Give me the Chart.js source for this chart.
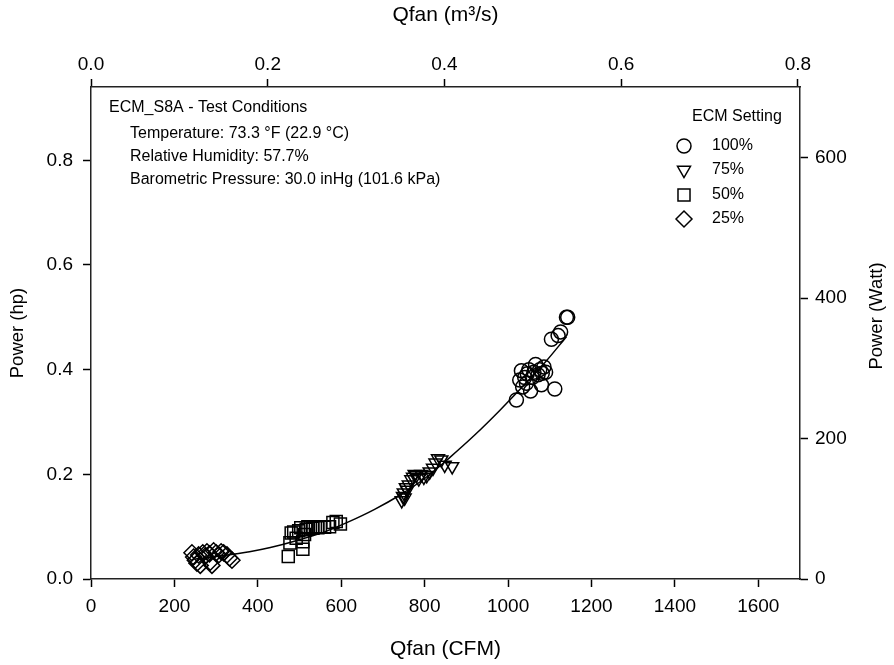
<!DOCTYPE html>
<html><head><meta charset="utf-8">
<script src="https://cdn.jsdelivr.net/npm/chart.js@4.4.1/dist/chart.umd.min.js"></script>
<style>html,body{margin:0;padding:0;background:#fff;}#wrap{width:894px;height:665px;}</style>
</head><body><div id="wrap"><canvas id="c" width="894" height="665"></canvas></div>
<script>
// ---- data ----
const cfm100 = [1020,1028,1032,1035,1040,1044,1046,1050,1054,1058,1062,1066,1072,1076,1080,1082,1086,1090,1104,1112,1120,1126,1140,1143];
const hp100  = [0.342,0.380,0.398,0.367,0.385,0.374,0.392,0.400,0.359,0.385,0.395,0.410,0.390,0.400,0.371,0.393,0.405,0.395,0.458,0.363,0.465,0.472,0.500,0.500];
const cfm75  = [745,748,750,752,755,758,762,768,772,776,780,786,792,798,805,812,820,826,832,840,848,866];
const hp75   = [0.150,0.158,0.165,0.155,0.175,0.170,0.180,0.190,0.195,0.200,0.198,0.192,0.200,0.195,0.198,0.205,0.212,0.222,0.230,0.228,0.218,0.215];
const cfm50  = [473,477,480,486,492,498,503,508,508,512,516,520,526,532,538,544,550,560,572,580,588,598];
const hp50   = [0.043,0.069,0.088,0.090,0.078,0.092,0.098,0.071,0.057,0.085,0.095,0.100,0.098,0.097,0.100,0.098,0.100,0.099,0.100,0.108,0.110,0.105];
const cfm25  = [242,246,250,254,258,262,268,274,278,284,286,290,294,300,306,312,318,326,332,338];
const hp25   = [0.050,0.042,0.036,0.030,0.046,0.026,0.050,0.044,0.052,0.048,0.032,0.026,0.054,0.050,0.046,0.052,0.050,0.046,0.040,0.036];
const fitCFM = [250,300,380,430,500,560,620,680,740,800,860,920,980,1040,1090,1140];
const fitHP  = [0.038,0.043,0.052,0.060,0.075,0.090,0.110,0.133,0.160,0.192,0.232,0.275,0.322,0.372,0.415,0.463];
const seriesLabels = ['100%','75%','50%','25%'];
const legendTitle = 'ECM Setting';
const noteLines = ['ECM_S8A - Test Conditions','Temperature: 73.3 °F (22.9 °C)','Relative Humidity: 57.7%','Barometric Pressure: 30.0 inHg (101.6 kPa)'];
const xTitle = 'Qfan (CFM)', x2Title = 'Qfan (m³/s)', yTitle = 'Power (hp)', y2Title = 'Power (Watt)';
const cfmMax = 1700, hpMax = 0.94;
const CFM_TO_M3S = 0.000471947, HP_TO_W = 745.7;

const FONT = '"Liberation Sans", Arial, Helvetica, sans-serif';
const pts = (xs, ys) => xs.map((x, i) => ({x, y: ys[i]}));
const mk = (label, xs, ys, style, r, rot) => ({
  label, data: pts(xs, ys), pointStyle: style, pointRadius: r, pointRotation: rot || 0,
  pointBorderColor: '#000', pointBackgroundColor: 'rgba(0,0,0,0)', pointBorderWidth: 1.5,
  showLine: false, borderColor: '#000', backgroundColor: 'rgba(0,0,0,0)'
});
const datasets = [
  mk(seriesLabels[0], cfm100, hp100, 'circle', 7),
  mk(seriesLabels[1], cfm75, hp75, 'triangle', 7.5, 180),
  mk(seriesLabels[2], cfm50, hp50, 'rect', 8.5),
  mk(seriesLabels[3], cfm25, hp25, 'rectRot', 8),
  {label: 'fit', data: pts(fitCFM, fitHP), showLine: true, pointRadius: 0, borderColor: '#000', borderWidth: 1.5,
   cubicInterpolationMode: 'monotone', fill: false}
];

const tickFont = {family: FONT, size: 19};
const xTitleFont = {family: FONT, size: 21};
const yTitleFont = {family: FONT, size: 18.5};
const gridCfg = {drawOnChartArea: false, tickLength: 8, tickColor: '#000', tickWidth: 1.5};
const borderCfg = {color: '#222', width: 1.5};

const overlay = {
  id: 'overlay',
  afterDraw(chart) {
    const ctx = chart.ctx;
    ctx.save();
    ctx.fillStyle = '#000';
    // right axis title, reading bottom-to-top
    ctx.font = '18.5px ' + FONT;
    ctx.textAlign = 'center'; ctx.textBaseline = 'middle';
    ctx.translate(877, 316);
    ctx.rotate(-Math.PI / 2);
    ctx.fillText(y2Title, 0, 0);
    ctx.setTransform(1, 0, 0, 1, 0, 0);
    // test condition notes
    ctx.font = '16px ' + FONT;
    ctx.textAlign = 'left';
    ctx.fillText(noteLines[0], 109, 108);
    ctx.fillText(noteLines[1], 130, 134);
    ctx.fillText(noteLines[2], 130, 157);
    ctx.fillText(noteLines[3], 130, 180);
    // legend
    ctx.fillText(legendTitle, 692, 117);
    const ly = [146, 170, 195, 219];
    for (let i = 0; i < 4; i++) {
      const ds = chart.data.datasets[i];
      ctx.strokeStyle = '#000'; ctx.lineWidth = 1.5; ctx.fillStyle = 'rgba(0,0,0,0)';
      Chart.helpers.drawPoint(ctx, {pointStyle: ds.pointStyle, rotation: ds.pointRotation, radius: ds.pointRadius, borderWidth: 1.5}, 684, ly[i]);
      ctx.fillStyle = '#000';
      ctx.fillText(ds.label, 712, ly[i]);
    }
    ctx.restore();
  }
};

new Chart(document.getElementById('c'), {
  type: 'scatter',
  data: {datasets},
  options: {
    responsive: false, animation: false, devicePixelRatio: 1,
    layout: {padding: 0},
    plugins: {legend: {display: false}, tooltip: {enabled: false}},
    scales: {
      x: {type: 'linear', axis: 'x', position: 'bottom', min: 0, max: cfmMax,
          ticks: {stepSize: 200, includeBounds: false, font: tickFont, color: '#000', padding: 8, maxRotation: 0,
                  callback: v => String(v)},
          grid: gridCfg, border: borderCfg,
          title: {display: true, text: xTitle, font: xTitleFont, color: '#000', padding: {top: 0, bottom: 3}},
          afterFit: s => { s.height = 86; }},
      x2: {type: 'linear', axis: 'x', position: 'top', min: 0, max: cfmMax * CFM_TO_M3S,
          ticks: {stepSize: 0.2, includeBounds: false, font: tickFont, color: '#000', padding: 3, maxRotation: 0,
                  callback: v => v.toFixed(1)},
          grid: gridCfg, border: borderCfg,
          title: {display: true, text: x2Title, font: xTitleFont, color: '#000', padding: {top: 3, bottom: 0}},
          afterFit: s => { s.height = 87; }},
      y: {type: 'linear', axis: 'y', position: 'left', min: 0, max: hpMax,
          ticks: {stepSize: 0.2, includeBounds: false, font: tickFont, color: '#000', padding: 10,
                  callback: v => v.toFixed(1)},
          grid: gridCfg, border: borderCfg,
          title: {display: true, text: yTitle, font: yTitleFont, color: '#000', padding: {top: 7, bottom: 0}},
          afterFit: s => { s.width = 91; }},
      y2: {type: 'linear', axis: 'y', position: 'right', min: 0, max: hpMax * HP_TO_W,
          ticks: {stepSize: 200, includeBounds: false, font: tickFont, color: '#000', padding: 7,
                  callback: v => String(v)},
          grid: gridCfg, border: borderCfg,
          title: {display: false},
          afterFit: s => { s.width = 94; }}
    }
  },
  plugins: [overlay]
});
</script></body></html>
